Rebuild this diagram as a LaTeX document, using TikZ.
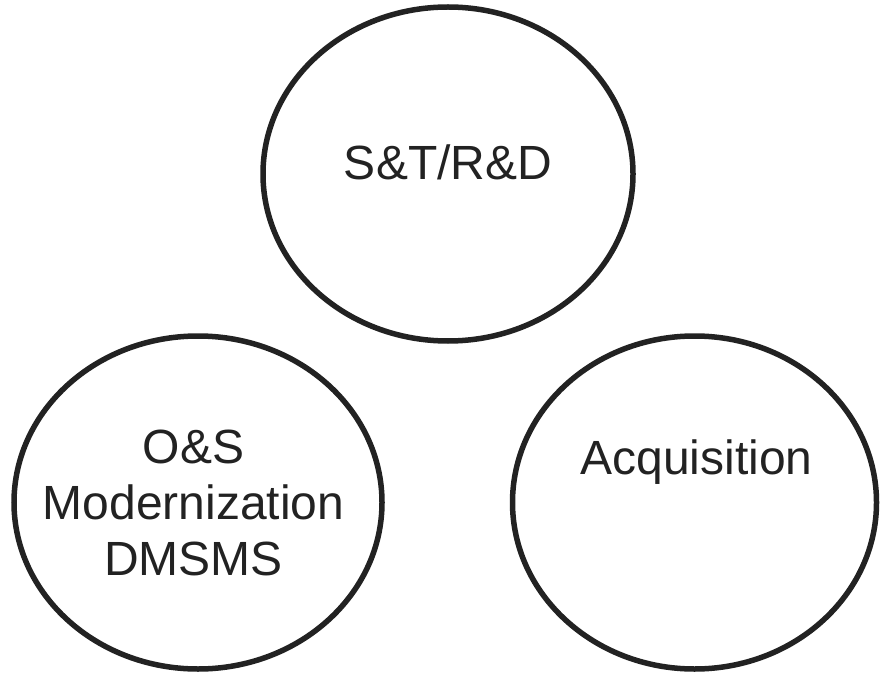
\documentclass[tikz,border=0pt]{standalone}
\usepackage{fontspec}
\setmainfont{Liberation Sans}
\usetikzlibrary{shapes.geometric}
\definecolor{ink}{HTML}{222222}
\begin{document}
\begin{tikzpicture}[x=1pt,y=1pt,
  circ/.style={ellipse,draw=ink,line width=5.5pt,inner sep=0pt,minimum width=370pt,minimum height=334pt},
  lbl/.style={text=ink,inner sep=0pt,align=center,font=\fontsize{48}{56}\selectfont}]
\useasboundingbox (0,0) rectangle (882,673);
\node[circ] (rd) at (448,499) {};
\node[circ,minimum width=368pt,minimum height=333pt] (os) at (198,170.5) {};
\node[circ,minimum width=364pt,minimum height=333pt] (acq) at (694.5,170.5) {};
\node[lbl,anchor=base] (rdt) at (448,493) {S\&T/R\&D};
\node[lbl,anchor=base] (acqt) at (696.5,199) {Acquisition};
\node[lbl,anchor=north] (ost) at (193.5,243) {O\&S\\Modernization\\DMSMS};
\end{tikzpicture}
\end{document}
